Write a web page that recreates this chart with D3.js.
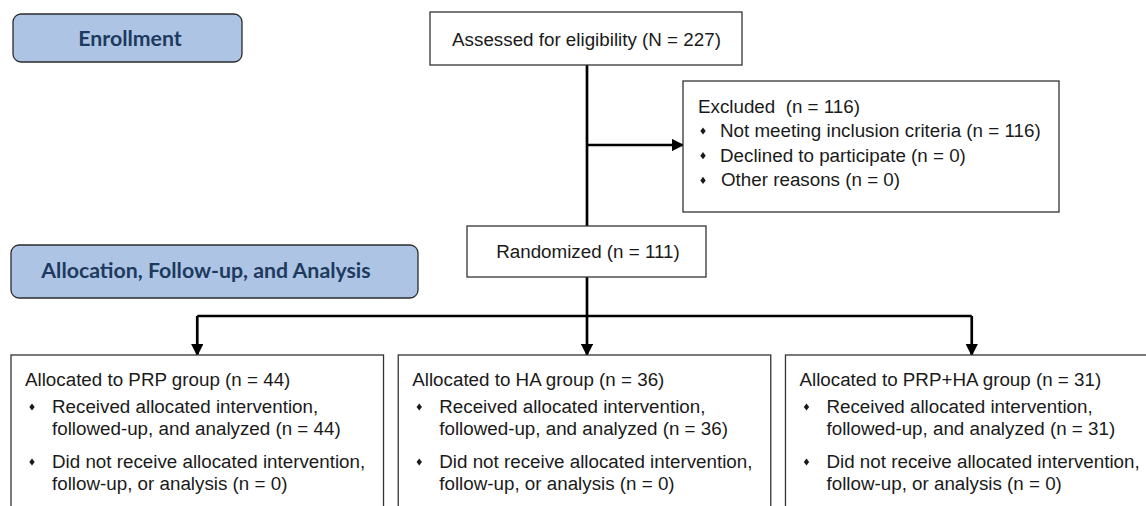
<!DOCTYPE html>
<html lang="en">
<head>
    <meta charset="UTF-8" />
    <script src="https://d3js.org/d3.v7.min.js"></script>
    <title>CONSORT flow</title>
    <style>
        body { margin: 0; background: #fff; }
        svg { display: block; }
    </style>
</head>
<body>
<svg></svg>
<script>
    // flow data
    let stageLabels = ["Enrollment", "Allocation, Follow-up, and Analysis"];
    let assessedN = 227;
    let excludedN = 116;
    let excludedReasons = ["Not meeting inclusion criteria", "Declined to participate", "Other reasons"];
    let excludedCounts = [116, 0, 0];
    let randomizedN = 111;
    let groups = ["PRP", "HA", "PRP+HA"];
    let groupN = [44, 36, 31];
    let notReceivedN = [0, 0, 0];

    let width = 1146, height = 506;
    let svg = d3.select("svg").attr("width", width).attr("height", height);

    let bodyFont = "'Liberation Sans', Arial, sans-serif";
    let headFont = "Lato, 'Open Sans', sans-serif";
    let fs = 18.8;

    // arrowhead
    svg.append("defs").append("marker")
        .attr("id", "arrow")
        .attr("viewBox", "0 0 10 10")
        .attr("refX", 9).attr("refY", 5)
        .attr("markerWidth", 4.6).attr("markerHeight", 4.6)
        .attr("markerUnits", "strokeWidth")
        .attr("orient", "auto")
        .append("path")
        .attr("d", "M0,0 L10,5 L0,10 Z")
        .attr("fill", "#000");

    function box(x, y, w, h) {
        svg.append("rect")
            .attr("x", x).attr("y", y).attr("width", w).attr("height", h)
            .attr("fill", "#fff").attr("stroke", "#333").attr("stroke-width", 1.3);
    }

    function txt(x, y, s, anchor) {
        return svg.append("text")
            .attr("x", x).attr("y", y)
            .attr("text-anchor", anchor || "start")
            .style("font-family", bodyFont).style("font-size", fs + "px")
            .attr("fill", "#1a1a1a")
            .text(s);
    }

    function bullet(x, y) {
        svg.append("path")
            .attr("d", "M0,-3.6 L2.7,0 L0,3.6 L-2.7,0 Z")
            .attr("transform", "translate(" + x + "," + y + ")")
            .attr("fill", "#1a1a1a");
    }

    function line(pts, arrow) {
        let p = svg.append("path")
            .attr("d", d3.line()(pts))
            .attr("fill", "none").attr("stroke", "#000")
            .attr("stroke-width", 2.7);
        if (arrow) p.attr("marker-end", "url(#arrow)");
    }

    // stage header boxes
    let stages = [{x: 13, y: 14, w: 229, h: 48, tx: 130, by: 46}, {x: 11, y: 245, w: 407, h: 53, tx: 206, by: 278}];
    stages.forEach((s, i) => {
        svg.append("rect")
            .attr("x", s.x).attr("y", s.y).attr("width", s.w).attr("height", s.h)
            .attr("rx", 8).attr("ry", 8)
            .attr("fill", "#aec4e4").attr("stroke", "#2b2b2b").attr("stroke-width", 1.3);
        svg.append("text")
            .attr("x", s.tx).attr("y", s.by)
            .attr("text-anchor", "middle")
            .style("font-family", headFont).style("font-weight", "bold").style("font-size", "21.3px")
            .attr("fill", "#1d3a5f")
            .text(stageLabels[i]);
    });

    let cx = 587;

    // connectors
    line([[cx, 65], [cx, 226]]);
    line([[cx, 145], [683, 145]], true);
    line([[cx, 277], [cx, 316]]);

    let colX = d3.scaleBand().domain(groups).range([11, 1158]).paddingInner(0.038);
    let centers = groups.map(g => colX(g) + colX.bandwidth() / 2);
    centers[1] = cx;
    line([[centers[0], 316], [centers[2], 316]]);
    centers.forEach(c => line([[c, 316], [c, 355]], true));

    // assessed
    box(430, 12, 312, 53);
    txt(586.5, 46, "Assessed for eligibility (N = " + assessedN + ")", "middle");

    // excluded
    box(683, 81, 376, 131);
    txt(698, 113, "Excluded  (n = " + excludedN + ")").style("white-space", "pre");
    excludedReasons.forEach((r, i) => {
        let y = 137 + i * 24.7;
        bullet(703, y - 6);
        txt(720 + (i == 2 ? 1 : 0), y, r + " (n = " + excludedCounts[i] + ")");
    });

    // randomized
    box(467, 226, 239, 51);
    txt(588, 258, "Randomized (n = " + randomizedN + ")", "middle");

    // allocation boxes
    groups.forEach((g, i) => {
        let x0 = colX(g);
        box(x0, 355, colX.bandwidth(), 200);
        txt(x0 + 14, 386, "Allocated to " + g + " group (n = " + groupN[i] + ")");
        bullet(x0 + 21, 407);
        txt(x0 + 41, 413, "Received allocated intervention,");
        txt(x0 + 41, 435, "followed-up, and analyzed (n = " + groupN[i] + ")");
        bullet(x0 + 21, 462);
        txt(x0 + 41, 468, "Did not receive allocated intervention,");
        txt(x0 + 41, 490, "follow-up, or analysis (n = " + notReceivedN[i] + ")");
    });
</script>
</body>
</html>
